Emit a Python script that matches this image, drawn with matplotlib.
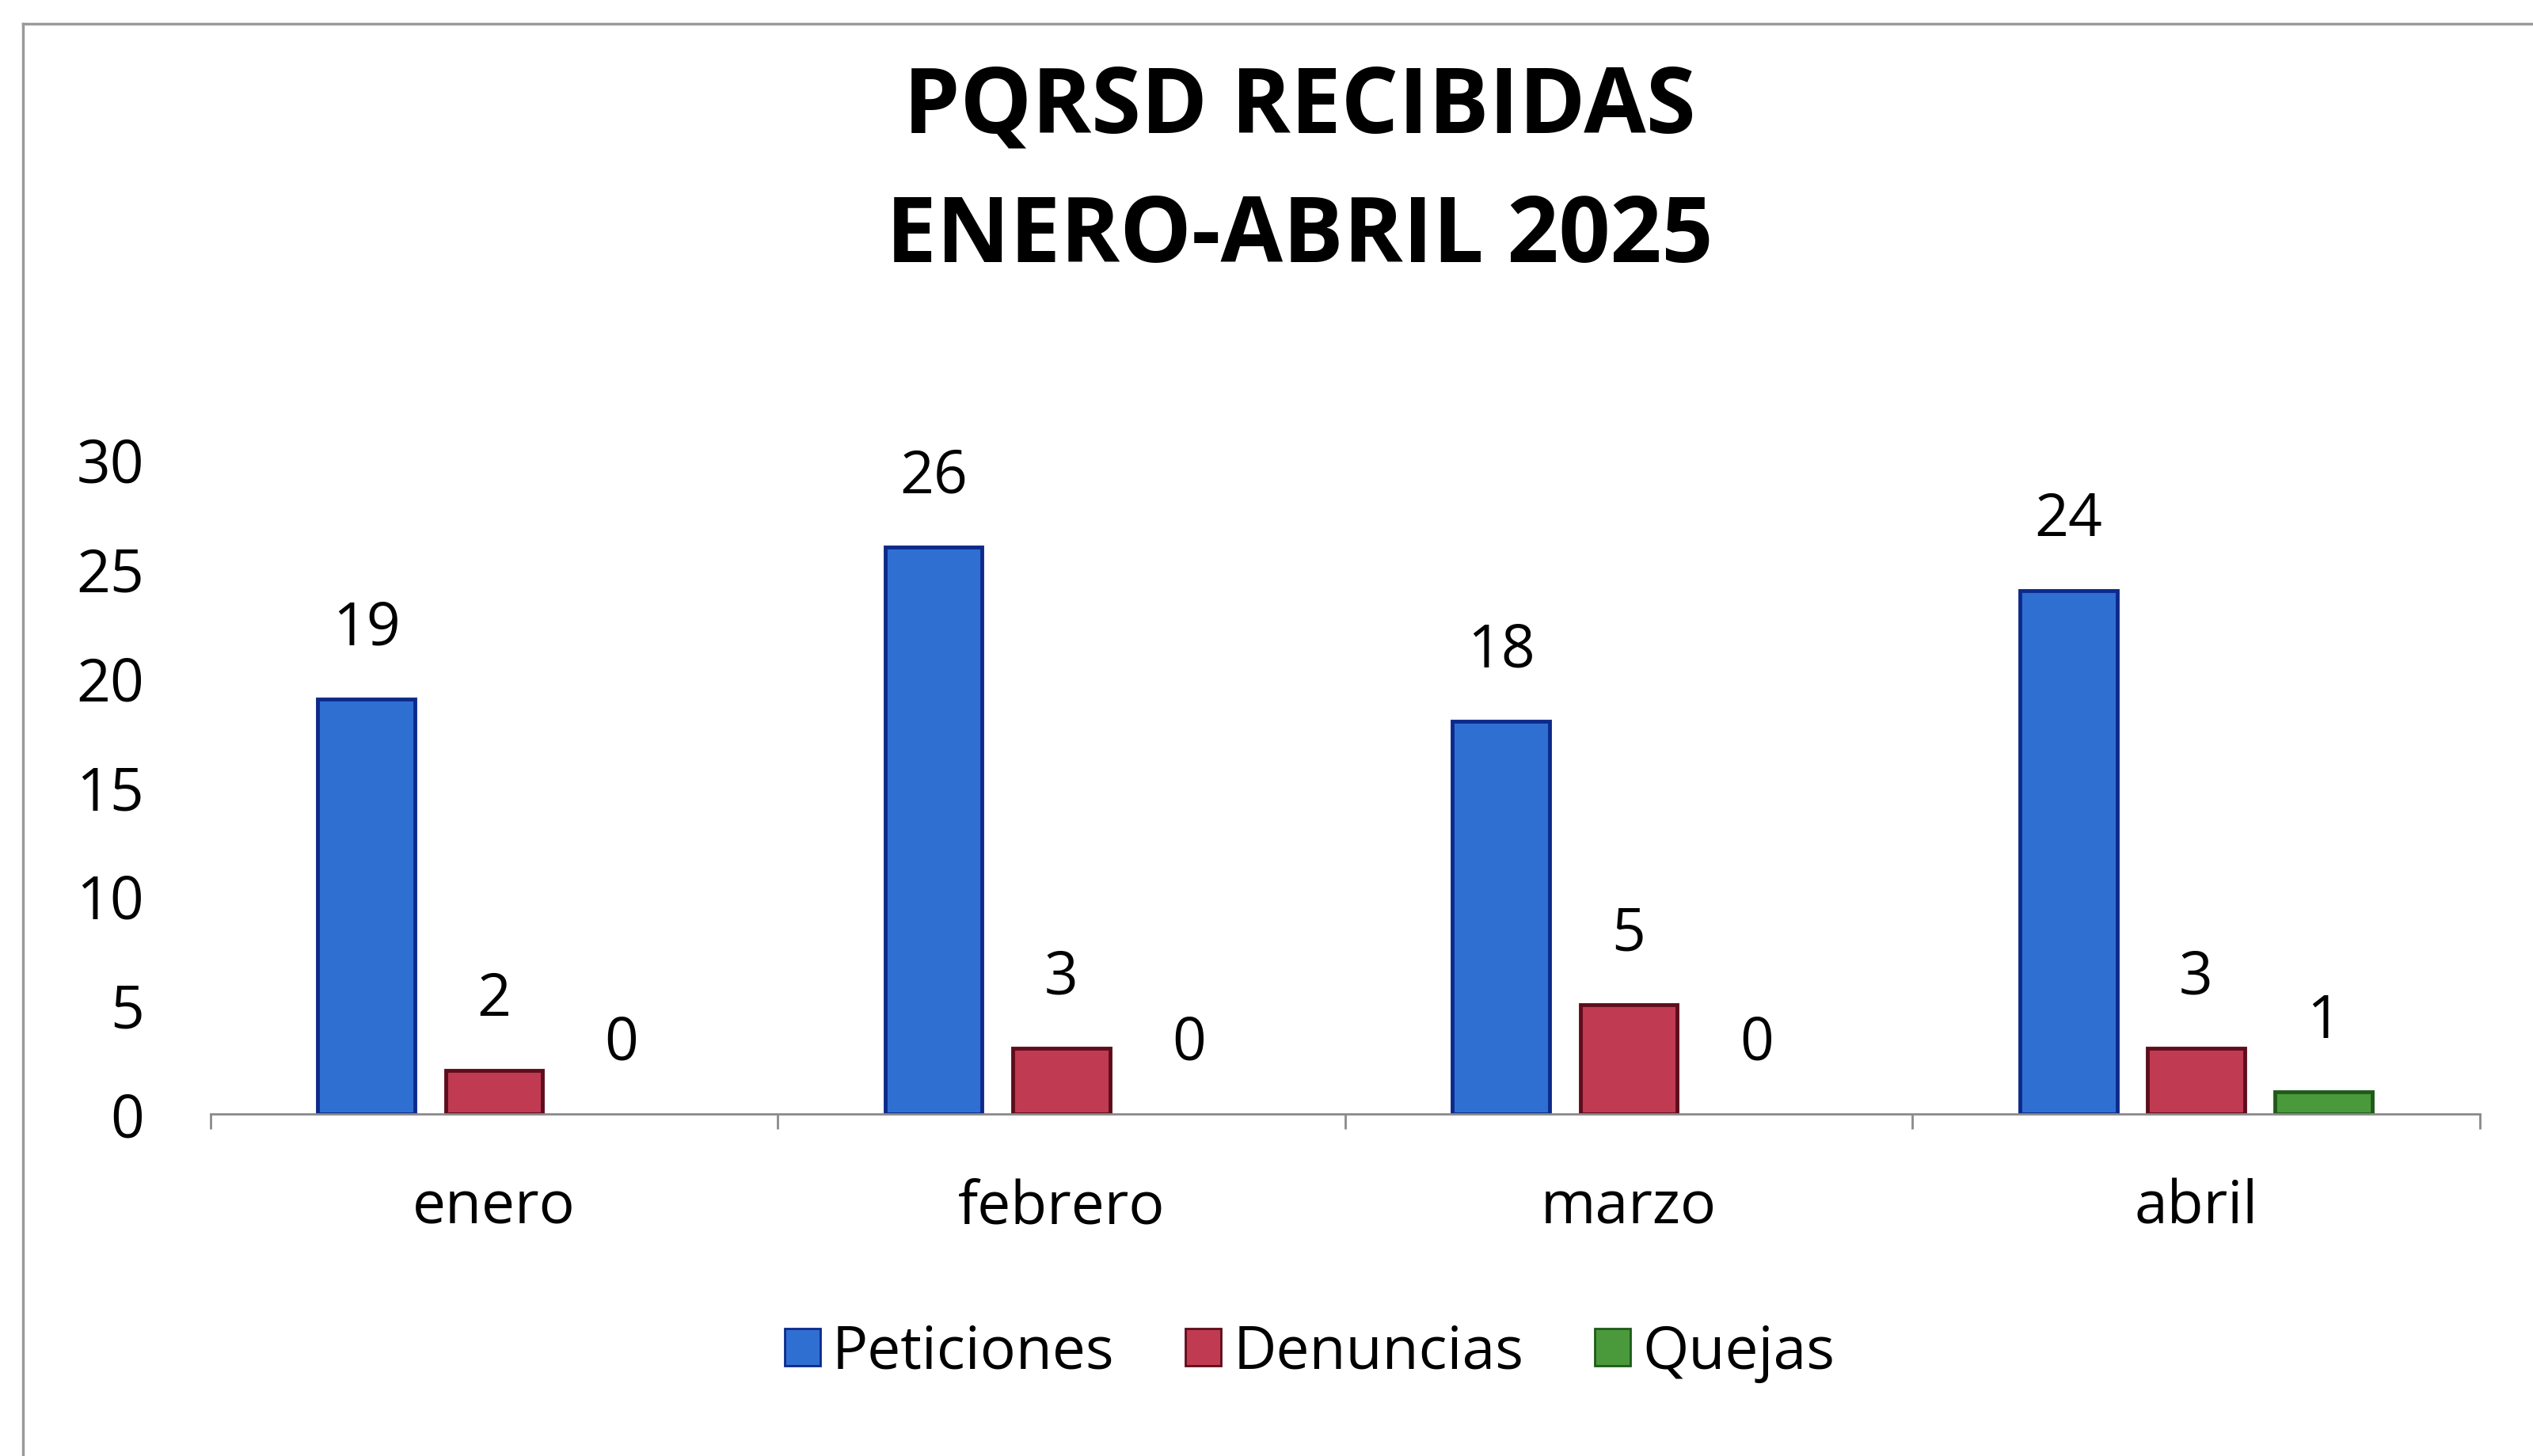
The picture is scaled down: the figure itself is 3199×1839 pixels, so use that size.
import matplotlib.pyplot as plt
from matplotlib.patches import Patch
from matplotlib.lines import Line2D
import numpy as np

plt.rcParams['font.family'] = ['Open Sans', 'DejaVu Sans']

meses = ['enero', 'febrero', 'marzo', 'abril']
peticiones = [19, 26, 18, 24]
denuncias = [2, 3, 5, 3]
quejas = [0, 0, 0, 1]

series = [
    ('Peticiones', peticiones, '#2f6fd2', '#0d2a8a'),
    ('Denuncias', denuncias, '#c03a52', '#5e0d1c'),
    ('Quejas', quejas, '#4a9a3c', '#1f5a1a'),
]

fig = plt.figure(figsize=(31.99, 18.40), dpi=100)
ax = fig.add_axes([0.083, 0.235, 0.896, 0.449])

x = np.arange(len(meses))
w = 0.171
step = 0.225
for i, (name, vals, fc, ec) in enumerate(series):
    pos = x + (i - 1) * step
    # zero-height bars show nothing in the original, so no edge for them
    edges = [ec if v > 0 else 'none' for v in vals]
    ax.bar(pos, vals, width=w, color=fc, edgecolor=edges, linewidth=3.5, label=name)
    for p, v in zip(pos, vals):
        ax.annotate(str(v), (p, v), xytext=(0, 37), textcoords='offset points',
                    ha='center', va='bottom', fontsize=54, clip_on=False)

ax.set_xlim(-0.5, 3.5)
ax.set_ylim(0, 30)
ax.set_yticks(range(0, 31, 5))
ax.tick_params(axis='y', length=0, pad=60, labelsize=54)

ax.set_xticks(np.arange(-0.5, 4, 1))
ax.set_xticklabels([])
ax.tick_params(axis='x', which='major', length=14, width=2, color='#8a8a8a', direction='out')
ax.set_xticks(x, minor=True)
ax.set_xticklabels(meses, minor=True)
ax.tick_params(axis='x', which='minor', length=0, pad=58, labelsize=54)

for s in ['top', 'right', 'left']:
    ax.spines[s].set_visible(False)
ax.spines['bottom'].set_color('#8a8a8a')
ax.spines['bottom'].set_linewidth(2)

fig.text(0.513, 0.925, 'PQRSD RECIBIDAS', ha='center', va='center', fontsize=82, fontweight='bold')
fig.text(0.513, 0.836, 'ENERO-ABRIL 2025', ha='center', va='center', fontsize=82, fontweight='bold')

# chart border
fig.add_artist(Line2D([0.009, 1.0], [0.983, 0.983], color='#9a9a9a', lw=2.5))
fig.add_artist(Line2D([0.009, 0.009], [0.0, 0.983], color='#9a9a9a', lw=2.5))

handles = [Patch(facecolor=fc, edgecolor=ec, linewidth=2, label=n) for n, _, fc, ec in series]
fig.legend(handles=handles, loc='center', bbox_to_anchor=(0.517, 0.071), ncol=3,
           frameon=False, fontsize=54, handlelength=0.6, handleheight=0.6,
           handletextpad=0.2, columnspacing=1.2)

fig.savefig('out.png', dpi=100)
